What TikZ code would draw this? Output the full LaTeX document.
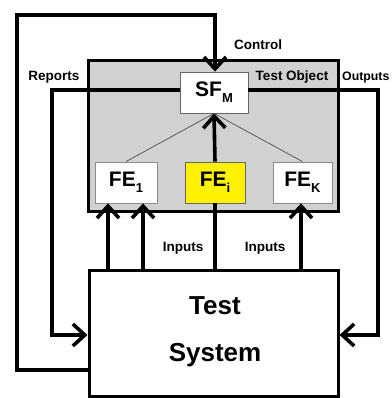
\documentclass[tikz,border=0pt]{standalone}
\usepackage{fontspec}
\setmainfont{Liberation Sans}
\usetikzlibrary{arrows.meta}
\tikzset{
  wire/.style={line width=3.6pt, line join=miter},
  barb/.style={-{Straight Barb[length=12pt,width=22pt,line width=3.6pt]}},
  lbl/.style={font=\fontsize{13.5}{15}\selectfont\bfseries, inner sep=0pt},
  febox/.style={draw=black!45, line width=0.8pt, fill=white, minimum height=41pt, inner sep=0pt,
    font=\fontsize{21}{24}\selectfont\bfseries},
  thin/.style={draw=black!70, line width=0.7pt}
}
\newcommand{\sbx}[1]{\raisebox{-0.28em}{\fontsize{13}{14}\selectfont #1}}
\begin{document}
\begin{tikzpicture}[x=1pt,y=-1pt]
\useasboundingbox (0,0) rectangle (391,398);
\fill[white] (0,0) rectangle (391,398);
% test object
\node[draw=black, line width=3pt, fill=black!18, minimum width=250pt, minimum height=150pt, inner sep=0pt] (to) at (213,136) {};
\node[lbl] (tolbl) at (292,77) {Test Object};
% boxes
\node[febox, draw=black!60, minimum width=68pt] (sfm) at (214,92.5) {SF\sbx{M}};
\node[febox, minimum width=62pt] (fe1) at (126,182.5) {FE\sbx{1}};
\node[febox, draw=black!60, fill=yellow, minimum width=60pt] (fei) at (215,182.5) {FE\sbx{i}};
\node[febox, minimum width=59pt] (fek) at (302.5,182.5) {FE\sbx{K}};
\draw[thin] (sfm.south) -- (fe1.north);
\draw[thin] (sfm.south) -- (fek.north);
% test system
\node[draw=black, line width=3pt, fill=white, minimum width=249pt, minimum height=126pt, inner sep=0pt] (ts) at (213.5,333.5) {};
\node[font=\fontsize{26}{28}\selectfont\bfseries, inner sep=0pt] (tstest) at (215,306) {Test};
\node[font=\fontsize{26}{28}\selectfont\bfseries, inner sep=0pt] (tssys) at (215,355) {System};
% coordinates
\coordinate (c1) at (17,370);
\coordinate (c2) at (17,15);
\coordinate (c3) at (215,15);
\coordinate (r1) at (52,90);
\coordinate (r2) at (52,335);
\coordinate (o1) at (378,90);
\coordinate (o2) at (378,335);
\coordinate (a1) at (108,270);
\coordinate (a2) at (143,270);
\coordinate (a3) at (301,270);
% control
\draw[wire,barb] (ts.west |- c1) -- (c1) -- (c2) -- (c3) -- (c3 |- sfm.north);
% reports
\draw[wire,barb] (sfm.west |- r1) -- (r1) -- (r2) -- (ts.west |- r2);
% outputs
\draw[wire,barb] (sfm.east |- o1) -- (o1) -- (o2) -- (ts.east |- o2);
% inputs
\draw[wire,barb] (ts.north -| a1) -- (fe1.south -| a1);
\draw[wire,barb] (ts.north -| a2) -- (fe1.south -| a2);
\draw[wire] (ts.north -| fei) -- (fei.south);
\draw[wire,barb] (ts.north -| a3) -- (fek.south -| a3);
\draw[wire,barb] (fei.north) -- (sfm.south);
% labels
\node[lbl] (ctl) at (258,45) {Control};
\node[lbl] (rep) at (54,77) {Reports};
\node[lbl, font=\fontsize{12.3}{14}\selectfont\bfseries, anchor=west] (out) at (342,77) {Outputs};
\node[lbl] (in1) at (183,248) {Inputs};
\node[lbl] (in2) at (265,248) {Inputs};
\end{tikzpicture}
\end{document}
